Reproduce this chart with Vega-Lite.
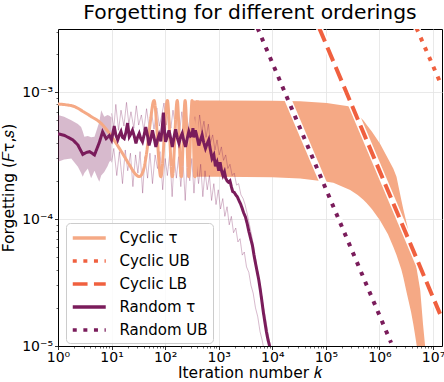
{
  "$schema": "https://vega.github.io/schema/vega-lite/v6.json",
  "width": 384,
  "height": 317,
  "autosize": {"type": "none"},
  "padding": {"left": 58, "top": 29, "right": 2, "bottom": 36},
  "title": {"text": "Forgetting for different orderings", "fontSize": 20.3, "fontWeight": "normal", "anchor": "middle", "offset": 10, "baseline": "alphabetic", "dy": 20, "color": "black", "font": "DejaVu Sans"},
  "config": {
    "font": "DejaVu Sans",
    "view": {"stroke": "black", "strokeWidth": 1},
    "axis": {"domainColor": "black", "domainWidth": 1, "tickColor": "black", "tickWidth": 0.8, "tickSize": 3.5, "labelColor": "black", "titleColor": "black", "labelFontSize": 14, "titleFontSize": 15.5, "titleFontWeight": "normal", "gridColor": "#e3e3e3", "gridWidth": 0.8, "labelFont": "DejaVu Sans", "titleFont": "DejaVu Sans"},
    "legend": {"orient": "none", "legendX": 8, "legendY": 194, "symbolType": "M-1,0H3", "symbolSize": 272, "symbolStrokeWidth": 3.5, "labelFontSize": 15, "labelColor": "black", "labelFont": "DejaVu Sans", "fillColor": "rgba(255,255,255,0.8)", "strokeColor": "#cccccc", "cornerRadius": 4, "padding": 5, "rowPadding": 5, "labelOffset": 28.5}
  },
  "datasets": {
    "cycband": [
      {"k": 330, "lo": 2.15e-4, "hi": 8.6e-4},
      {"k": 1000, "lo": 2.15e-4, "hi": 8.6e-4},
      {"k": 10000, "lo": 2.13e-4, "hi": 8.55e-4},
      {"k": 33000, "lo": 2.09e-4, "hi": 8.45e-4},
      {"k": 104000, "lo": 1.97e-4, "hi": 8.2e-4},
      {"k": 138000, "lo": 1.93e-4, "hi": 8.05e-4},
      {"k": 284000, "lo": 1.69e-4, "hi": 7.7e-4},
      {"k": 393000, "lo": 1.55e-4, "hi": 6.6e-4},
      {"k": 500000, "lo": 1.42e-4, "hi": 6.0e-4},
      {"k": 580000, "lo": 1.33e-4, "hi": 5.5e-4},
      {"k": 720000, "lo": 1.2e-4, "hi": 4.9e-4},
      {"k": 1020000, "lo": 9.8e-5, "hi": 3.94e-4},
      {"k": 1440000, "lo": 7.6e-5, "hi": 3.0e-4},
      {"k": 1810000, "lo": 6.05e-5, "hi": 2.5e-4},
      {"k": 2080000, "lo": 5.2e-5, "hi": 2.15e-4},
      {"k": 2560000, "lo": 4.0e-5, "hi": 1.41e-4},
      {"k": 2780000, "lo": 3.5e-5, "hi": 1.2e-4},
      {"k": 3240000, "lo": 2.6e-5, "hi": 9.2e-5},
      {"k": 3890000, "lo": 1.85e-5, "hi": 6.45e-5},
      {"k": 4270000, "lo": 1.5e-5, "hi": 5.6e-5},
      {"k": 4580000, "lo": 1.25e-5, "hi": 5.0e-5},
      {"k": 4970000, "lo": 1.0e-5, "hi": 4.0e-5},
      {"k": 5770000, "lo": 7e-6, "hi": 2.75e-5},
      {"k": 6490000, "lo": 5e-6, "hi": 1.5e-5},
      {"k": 7110000, "lo": 5e-6, "hi": 1.0e-5},
      {"k": 7700000, "lo": 5e-6, "hi": 8e-6}
    ],
    "rndband": [
      {"k": 1, "lo": 2.83e-4, "hi": 6.6e-4},
      {"k": 1.3, "lo": 2.95e-4, "hi": 6.4e-4},
      {"k": 1.77, "lo": 3.0e-4, "hi": 6.0e-4},
      {"k": 2.35, "lo": 2.58e-4, "hi": 5.6e-4},
      {"k": 2.7, "lo": 2.3e-4, "hi": 5.3e-4},
      {"k": 2.9, "lo": 2.15e-4, "hi": 4.9e-4},
      {"k": 3.1, "lo": 2.3e-4, "hi": 4.45e-4},
      {"k": 3.6, "lo": 2.5e-4, "hi": 4.5e-4},
      {"k": 4.15, "lo": 2.1e-4, "hi": 4.4e-4},
      {"k": 4.8, "lo": 2.4e-4, "hi": 4.45e-4},
      {"k": 5.5, "lo": 2.1e-4, "hi": 5.3e-4},
      {"k": 5.9, "lo": 1.97e-4, "hi": 5.8e-4},
      {"k": 6.4, "lo": 2.2e-4, "hi": 7.2e-4},
      {"k": 7.3, "lo": 2.35e-4, "hi": 6.4e-4},
      {"k": 8.4, "lo": 2.6e-4, "hi": 6.6e-4},
      {"k": 9.1, "lo": 2.83e-4, "hi": 6.5e-4},
      {"k": 10, "lo": 2.9e-4, "hi": 6.3e-4}
    ],
    "rndspk": [
      {"b": "hi", "k": 10, "v": 6.8e-4}, {"b": "hi", "k": 11, "v": 5.2e-4}, {"b": "hi", "k": 12, "v": 8.0e-4}, {"b": "hi", "k": 13.5, "v": 5.0e-4}, {"b": "hi", "k": 15, "v": 7.2e-4}, {"b": "hi", "k": 17, "v": 5.4e-4}, {"b": "hi", "k": 19, "v": 8.3e-4}, {"b": "hi", "k": 21, "v": 5.6e-4}, {"b": "hi", "k": 23, "v": 7.0e-4}, {"b": "hi", "k": 26, "v": 5.2e-4}, {"b": "hi", "k": 29, "v": 7.8e-4}, {"b": "hi", "k": 32, "v": 5.5e-4}, {"b": "hi", "k": 36, "v": 6.6e-4}, {"b": "hi", "k": 40, "v": 5.0e-4}, {"b": "hi", "k": 45, "v": 7.4e-4}, {"b": "hi", "k": 50, "v": 5.3e-4}, {"b": "hi", "k": 56, "v": 6.8e-4}, {"b": "hi", "k": 62, "v": 5.1e-4}, {"b": "hi", "k": 70, "v": 7.5e-4}, {"b": "hi", "k": 78, "v": 5.4e-4}, {"b": "hi", "k": 86, "v": 6.5e-4}, {"b": "hi", "k": 95, "v": 8.2e-4}, {"b": "hi", "k": 105, "v": 5.5e-4}, {"b": "hi", "k": 115, "v": 6.9e-4}, {"b": "hi", "k": 128, "v": 5.2e-4}, {"b": "hi", "k": 140, "v": 7.2e-4}, {"b": "hi", "k": 155, "v": 5.4e-4}, {"b": "hi", "k": 170, "v": 6.6e-4}, {"b": "hi", "k": 188, "v": 5.0e-4}, {"b": "hi", "k": 205, "v": 7.0e-4}, {"b": "hi", "k": 225, "v": 5.3e-4}, {"b": "hi", "k": 250, "v": 6.5e-4}, {"b": "hi", "k": 275, "v": 5.2e-4}, {"b": "hi", "k": 300, "v": 7.1e-4}, {"b": "hi", "k": 330, "v": 5.6e-4}, {"b": "hi", "k": 360, "v": 6.4e-4}, {"b": "hi", "k": 400, "v": 5.0e-4}, {"b": "hi", "k": 440, "v": 6.6e-4}, {"b": "hi", "k": 480, "v": 4.8e-4}, {"b": "hi", "k": 530, "v": 5.9e-4}, {"b": "hi", "k": 580, "v": 4.4e-4}, {"b": "hi", "k": 640, "v": 5.6e-4}, {"b": "hi", "k": 700, "v": 4.0e-4}, {"b": "hi", "k": 770, "v": 4.6e-4}, {"b": "hi", "k": 850, "v": 3.5e-4}, {"b": "hi", "k": 930, "v": 4.2e-4}, {"b": "hi", "k": 1020, "v": 3.2e-4}, {"b": "hi", "k": 1120, "v": 3.7e-4}, {"b": "hi", "k": 1230, "v": 2.9e-4}, {"b": "hi", "k": 1350, "v": 3.2e-4}, {"b": "hi", "k": 1480, "v": 2.5e-4}, {"b": "hi", "k": 1620, "v": 2.7e-4}, {"b": "hi", "k": 1780, "v": 2.2e-4}, {"b": "hi", "k": 1950, "v": 2.3e-4}, {"b": "hi", "k": 2150, "v": 1.85e-4}, {"b": "hi", "k": 2350, "v": 1.9e-4}, {"b": "hi", "k": 2600, "v": 1.55e-4}, {"b": "hi", "k": 2850, "v": 1.45e-4}, {"b": "hi", "k": 3100, "v": 1.3e-4}, {"b": "hi", "k": 3400, "v": 1.1e-4}, {"b": "hi", "k": 3750, "v": 9e-5}, {"b": "hi", "k": 4100, "v": 7.5e-5}, {"b": "hi", "k": 4500, "v": 6e-5}, {"b": "hi", "k": 5000, "v": 4.5e-5}, {"b": "hi", "k": 5500, "v": 3.6e-5}, {"b": "hi", "k": 6100, "v": 2.8e-5}, {"b": "hi", "k": 6700, "v": 2.1e-5}, {"b": "hi", "k": 7400, "v": 1.7e-5}, {"b": "hi", "k": 8200, "v": 1.3e-5}, {"b": "hi", "k": 9000, "v": 1.05e-5}, {"b": "hi", "k": 10000, "v": 8e-6},
      {"b": "lo", "k": 10, "v": 2.8e-4}, {"b": "lo", "k": 11, "v": 3.6e-4}, {"b": "lo", "k": 12.5, "v": 2.2e-4}, {"b": "lo", "k": 14, "v": 3.4e-4}, {"b": "lo", "k": 16, "v": 1.9e-4}, {"b": "lo", "k": 18, "v": 3.5e-4}, {"b": "lo", "k": 20, "v": 2.4e-4}, {"b": "lo", "k": 22.5, "v": 3.3e-4}, {"b": "lo", "k": 25, "v": 1.8e-4}, {"b": "lo", "k": 28, "v": 3.2e-4}, {"b": "lo", "k": 31, "v": 2.3e-4}, {"b": "lo", "k": 34, "v": 3.4e-4}, {"b": "lo", "k": 38, "v": 1.6e-4}, {"b": "lo", "k": 42, "v": 3.1e-4}, {"b": "lo", "k": 47, "v": 2.1e-4}, {"b": "lo", "k": 52, "v": 3.3e-4}, {"b": "lo", "k": 58, "v": 1.9e-4}, {"b": "lo", "k": 65, "v": 3.2e-4}, {"b": "lo", "k": 72, "v": 2.5e-4}, {"b": "lo", "k": 80, "v": 3.4e-4}, {"b": "lo", "k": 90, "v": 1.7e-4}, {"b": "lo", "k": 100, "v": 3.0e-4}, {"b": "lo", "k": 110, "v": 2.2e-4}, {"b": "lo", "k": 122, "v": 3.3e-4}, {"b": "lo", "k": 135, "v": 1.5e-4}, {"b": "lo", "k": 148, "v": 3.0e-4}, {"b": "lo", "k": 162, "v": 2.1e-4}, {"b": "lo", "k": 178, "v": 3.1e-4}, {"b": "lo", "k": 196, "v": 1.8e-4}, {"b": "lo", "k": 215, "v": 2.9e-4}, {"b": "lo", "k": 237, "v": 1.4e-4}, {"b": "lo", "k": 260, "v": 2.9e-4}, {"b": "lo", "k": 288, "v": 2.0e-4}, {"b": "lo", "k": 315, "v": 3.0e-4}, {"b": "lo", "k": 345, "v": 1.6e-4}, {"b": "lo", "k": 380, "v": 2.8e-4}, {"b": "lo", "k": 420, "v": 1.9e-4}, {"b": "lo", "k": 460, "v": 2.7e-4}, {"b": "lo", "k": 505, "v": 1.5e-4}, {"b": "lo", "k": 555, "v": 2.4e-4}, {"b": "lo", "k": 610, "v": 1.7e-4}, {"b": "lo", "k": 670, "v": 2.2e-4}, {"b": "lo", "k": 735, "v": 1.4e-4}, {"b": "lo", "k": 810, "v": 1.9e-4}, {"b": "lo", "k": 890, "v": 1.3e-4}, {"b": "lo", "k": 980, "v": 1.7e-4}, {"b": "lo", "k": 1080, "v": 1.2e-4}, {"b": "lo", "k": 1190, "v": 1.45e-4}, {"b": "lo", "k": 1300, "v": 1.05e-4}, {"b": "lo", "k": 1430, "v": 1.25e-4}, {"b": "lo", "k": 1570, "v": 9e-5}, {"b": "lo", "k": 1720, "v": 1.05e-4}, {"b": "lo", "k": 1890, "v": 7.8e-5}, {"b": "lo", "k": 2080, "v": 8.5e-5}, {"b": "lo", "k": 2280, "v": 6.6e-5}, {"b": "lo", "k": 2500, "v": 7e-5}, {"b": "lo", "k": 2750, "v": 5.2e-5}, {"b": "lo", "k": 3000, "v": 5.5e-5}, {"b": "lo", "k": 3300, "v": 4.2e-5}, {"b": "lo", "k": 3650, "v": 3.8e-5}, {"b": "lo", "k": 4000, "v": 3.0e-5}, {"b": "lo", "k": 4400, "v": 2.6e-5}, {"b": "lo", "k": 4850, "v": 2.0e-5}, {"b": "lo", "k": 5350, "v": 1.7e-5}, {"b": "lo", "k": 5900, "v": 1.3e-5}, {"b": "lo", "k": 6500, "v": 1.1e-5}, {"b": "lo", "k": 7100, "v": 9e-6}
    ],
    "cyc": [
      {"series": "Cyclic τ", "k": 1, "y": 8.05e-4},
      {"series": "Cyclic τ", "k": 1.4, "y": 7.95e-4},
      {"series": "Cyclic τ", "k": 2, "y": 7.7e-4},
      {"series": "Cyclic τ", "k": 3, "y": 7.0e-4},
      {"series": "Cyclic τ", "k": 4.2, "y": 6.4e-4},
      {"series": "Cyclic τ", "k": 6, "y": 5.8e-4},
      {"series": "Cyclic τ", "k": 9.2, "y": 4.7e-4},
      {"series": "Cyclic τ", "k": 14, "y": 3.6e-4},
      {"series": "Cyclic τ", "k": 21.7, "y": 2.66e-4},
      {"series": "Cyclic τ", "k": 27, "y": 2.3e-4},
      {"series": "Cyclic τ", "k": 33, "y": 2.16e-4},
      {"series": "Cyclic τ", "k": 39, "y": 2.4e-4},
      {"series": "Cyclic τ", "k": 45, "y": 3.3e-4},
      {"series": "Cyclic τ", "k": 52, "y": 5.5e-4},
      {"series": "Cyclic τ", "k": 62, "y": 8.6e-4},
      {"series": "Cyclic τ", "k": 83, "y": 2.15e-4},
      {"series": "Cyclic τ", "k": 110, "y": 8.6e-4},
      {"series": "Cyclic τ", "k": 136, "y": 2.15e-4},
      {"series": "Cyclic τ", "k": 168, "y": 8.6e-4},
      {"series": "Cyclic τ", "k": 200, "y": 2.15e-4},
      {"series": "Cyclic τ", "k": 236, "y": 8.6e-4},
      {"series": "Cyclic τ", "k": 275, "y": 2.15e-4},
      {"series": "Cyclic τ", "k": 318, "y": 8.6e-4},
      {"series": "Cyclic τ", "k": 359, "y": 2.15e-4},
      {"series": "Cyclic τ", "k": 400, "y": 8.6e-4}
    ],
    "rnd": [
      {"series": "Random τ", "k": 1, "y": 4.7e-4}, {"series": "Random τ", "k": 1.33, "y": 4.55e-4}, {"series": "Random τ", "k": 1.9, "y": 4.2e-4}, {"series": "Random τ", "k": 2.35, "y": 3.83e-4}, {"series": "Random τ", "k": 2.9, "y": 3.23e-4}, {"series": "Random τ", "k": 3.4, "y": 3.35e-4}, {"series": "Random τ", "k": 3.9, "y": 3.4e-4}, {"series": "Random τ", "k": 4.8, "y": 3.2e-4}, {"series": "Random τ", "k": 5.9, "y": 4.0e-4}, {"series": "Random τ", "k": 6.8, "y": 4.87e-4}, {"series": "Random τ", "k": 7.9, "y": 4.3e-4}, {"series": "Random τ", "k": 9.1, "y": 4.55e-4}, {"series": "Random τ", "k": 10, "y": 4.2e-4}, {"series": "Random τ", "k": 11.2, "y": 5.4e-4}, {"series": "Random τ", "k": 12, "y": 4.6e-4}, {"series": "Random τ", "k": 13, "y": 4.2e-4}, {"series": "Random τ", "k": 14, "y": 4.6e-4}, {"series": "Random τ", "k": 15, "y": 4.9e-4}, {"series": "Random τ", "k": 16, "y": 4.4e-4}, {"series": "Random τ", "k": 17.2, "y": 4.3e-4}, {"series": "Random τ", "k": 18.5, "y": 4.8e-4}, {"series": "Random τ", "k": 19.9, "y": 5.7e-4}, {"series": "Random τ", "k": 21.4, "y": 4.45e-4}, {"series": "Random τ", "k": 23, "y": 4.7e-4}, {"series": "Random τ", "k": 24.6, "y": 5.0e-4}, {"series": "Random τ", "k": 26.5, "y": 4.5e-4}, {"series": "Random τ", "k": 28.5, "y": 3.95e-4}, {"series": "Random τ", "k": 30.5, "y": 4.4e-4}, {"series": "Random τ", "k": 32.8, "y": 4.73e-4}, {"series": "Random τ", "k": 35, "y": 4.3e-4}, {"series": "Random τ", "k": 37.7, "y": 4.06e-4}, {"series": "Random τ", "k": 40.5, "y": 4.6e-4}, {"series": "Random τ", "k": 43.5, "y": 5.3e-4}, {"series": "Random τ", "k": 47, "y": 4.5e-4}, {"series": "Random τ", "k": 50, "y": 3.8e-4}, {"series": "Random τ", "k": 54, "y": 4.3e-4}, {"series": "Random τ", "k": 58, "y": 5.0e-4}, {"series": "Random τ", "k": 62, "y": 4.4e-4}, {"series": "Random τ", "k": 67, "y": 3.7e-4}, {"series": "Random τ", "k": 72, "y": 4.2e-4}, {"series": "Random τ", "k": 77, "y": 4.6e-4}, {"series": "Random τ", "k": 83, "y": 4.1e-4}, {"series": "Random τ", "k": 88, "y": 5.2e-4}, {"series": "Random τ", "k": 93, "y": 6.9e-4}, {"series": "Random τ", "k": 97, "y": 5.0e-4}, {"series": "Random τ", "k": 102, "y": 4.06e-4}, {"series": "Random τ", "k": 110, "y": 4.5e-4}, {"series": "Random τ", "k": 118, "y": 5.0e-4}, {"series": "Random τ", "k": 127, "y": 4.3e-4}, {"series": "Random τ", "k": 136, "y": 3.7e-4}, {"series": "Random τ", "k": 146, "y": 4.4e-4}, {"series": "Random τ", "k": 157, "y": 5.1e-4}, {"series": "Random τ", "k": 168, "y": 4.4e-4}, {"series": "Random τ", "k": 181, "y": 3.95e-4}, {"series": "Random τ", "k": 194, "y": 4.4e-4}, {"series": "Random τ", "k": 208, "y": 4.73e-4}, {"series": "Random τ", "k": 224, "y": 4.1e-4}, {"series": "Random τ", "k": 240, "y": 3.7e-4}, {"series": "Random τ", "k": 258, "y": 4.3e-4}, {"series": "Random τ", "k": 277, "y": 4.9e-4}, {"series": "Random τ", "k": 297, "y": 4.5e-4}, {"series": "Random τ", "k": 318, "y": 4.6e-4}, {"series": "Random τ", "k": 330, "y": 5.2e-4}, {"series": "Random τ", "k": 342, "y": 4.4e-4}, {"series": "Random τ", "k": 367, "y": 5.0e-4}, {"series": "Random τ", "k": 395, "y": 4.4e-4}, {"series": "Random τ", "k": 425, "y": 3.8e-4}, {"series": "Random τ", "k": 457, "y": 4.2e-4}, {"series": "Random τ", "k": 490, "y": 4.6e-4}, {"series": "Random τ", "k": 525, "y": 4.0e-4}, {"series": "Random τ", "k": 565, "y": 3.6e-4}, {"series": "Random τ", "k": 605, "y": 3.9e-4}, {"series": "Random τ", "k": 650, "y": 4.2e-4}, {"series": "Random τ", "k": 700, "y": 3.5e-4}, {"series": "Random τ", "k": 750, "y": 3.0e-4}, {"series": "Random τ", "k": 810, "y": 3.2e-4}, {"series": "Random τ", "k": 868, "y": 2.6e-4}, {"series": "Random τ", "k": 930, "y": 2.8e-4}, {"series": "Random τ", "k": 1000, "y": 2.4e-4}, {"series": "Random τ", "k": 1060, "y": 2.8e-4}, {"series": "Random τ", "k": 1130, "y": 2.4e-4}, {"series": "Random τ", "k": 1200, "y": 2.2e-4}, {"series": "Random τ", "k": 1280, "y": 2.35e-4}, {"series": "Random τ", "k": 1350, "y": 2.1e-4}, {"series": "Random τ", "k": 1430, "y": 2.0e-4}, {"series": "Random τ", "k": 1520, "y": 1.95e-4}, {"series": "Random τ", "k": 1620, "y": 2.0e-4}, {"series": "Random τ", "k": 1720, "y": 1.8e-4}, {"series": "Random τ", "k": 1820, "y": 1.65e-4}, {"series": "Random τ", "k": 1950, "y": 1.62e-4}, {"series": "Random τ", "k": 2080, "y": 1.55e-4}, {"series": "Random τ", "k": 2220, "y": 1.5e-4}, {"series": "Random τ", "k": 2380, "y": 1.4e-4}, {"series": "Random τ", "k": 2550, "y": 1.32e-4}, {"series": "Random τ", "k": 2730, "y": 1.22e-4}, {"series": "Random τ", "k": 2920, "y": 1.12e-4}, {"series": "Random τ", "k": 3150, "y": 1.04e-4}, {"series": "Random τ", "k": 3400, "y": 9.2e-5}, {"series": "Random τ", "k": 3650, "y": 8.0e-5}, {"series": "Random τ", "k": 3950, "y": 7.0e-5}, {"series": "Random τ", "k": 4250, "y": 6.2e-5}, {"series": "Random τ", "k": 4550, "y": 5.2e-5}, {"series": "Random τ", "k": 4900, "y": 4.4e-5}, {"series": "Random τ", "k": 5250, "y": 3.8e-5}, {"series": "Random τ", "k": 5600, "y": 3.3e-5}, {"series": "Random τ", "k": 5950, "y": 2.8e-5}, {"series": "Random τ", "k": 6350, "y": 2.3e-5}, {"series": "Random τ", "k": 6800, "y": 1.85e-5}, {"series": "Random τ", "k": 7250, "y": 1.55e-5}, {"series": "Random τ", "k": 7750, "y": 1.3e-5}, {"series": "Random τ", "k": 8300, "y": 1.12e-5}, {"series": "Random τ", "k": 8900, "y": 1.0e-5}, {"series": "Random τ", "k": 9800, "y": 9e-6}
    ],
    "bounds": [
      {"series": "Cyclic UB", "k": 4900000, "y": 3.2e-3},
      {"series": "Cyclic UB", "k": 13500000, "y": 1.2e-3},
      {"series": "Cyclic LB", "k": 75000, "y": 3.2e-3},
      {"series": "Cyclic LB", "k": 13500000, "y": 1.79e-5},
      {"series": "Random UB", "k": 5300, "y": 3.2e-3},
      {"series": "Random UB", "k": 1650000, "y": 1.06e-5}
    ]
  },
  "resolve": {"axis": {"x": "independent", "y": "independent"}},
  "layer": [
    {
      "data": {"name": "cycband"},
      "mark": {"type": "area", "color": "#f5a985", "clip": true, "opacity": 1},
      "encoding": {
        "x": {"field": "k", "type": "quantitative", "scale": {"type": "log", "domain": [1, 14700000], "nice": false},
          "axis": {"orient": "bottom", "values": [1, 10, 100, 1000, 10000, 100000, 1000000, 10000000], "labelExpr": "['10⁰','10¹','10²','10³','10⁴','10⁵','10⁶','10⁷'][round(log(datum.value)/LN10)]", "labelFlush": false, "labelOverlap": false, "labelPadding": 1, "grid": true, "title": "Iteration number 𝑘", "titleBaseline": "alphabetic", "titleY": 31}},
        "y": {"field": "lo", "type": "quantitative", "scale": {"type": "log", "domain": [1e-5, 3.14e-3], "nice": false},
          "axis": {"orient": "left", "values": [1e-5, 1e-4, 1e-3], "labelExpr": "datum.value < 2e-5 ? '10⁻⁵' : datum.value < 2e-4 ? '10⁻⁴' : '10⁻³'", "labelFlush": false, "labelOverlap": false, "labelPadding": 2, "grid": true, "title": "Forgetting (𝐹τ,𝑠)", "titleBaseline": "alphabetic", "titleX": -44.5}},
        "y2": {"field": "hi"}
      }
    },
    {
      "data": {"name": "rndband"},
      "mark": {"type": "area", "color": "#7a1c5b", "opacity": 0.3, "clip": true},
      "encoding": {
        "x": {"field": "k", "type": "quantitative", "axis": null},
        "y": {"field": "lo", "type": "quantitative", "axis": null},
        "y2": {"field": "hi"}
      }
    },
    {
      "data": {"name": "rndspk"},
      "mark": {"type": "line", "color": "#7a1c5b", "opacity": 0.3, "strokeWidth": 1, "clip": true},
      "encoding": {
        "x": {"field": "k", "type": "quantitative", "axis": null},
        "y": {"field": "v", "type": "quantitative", "axis": null},
        "detail": {"field": "b", "type": "nominal"}
      }
    },
    {
      "data": {"name": "bounds"},
      "mark": {"type": "line", "color": "white", "strokeWidth": 7, "strokeCap": "butt", "clip": true},
      "encoding": {
        "x": {"field": "k", "type": "quantitative",
          "axis": {"orient": "bottom", "values": [2,3,4,5,6,7,8,9,20,30,40,50,60,70,80,90,200,300,400,500,600,700,800,900,2000,3000,4000,5000,6000,7000,8000,9000,20000,30000,40000,50000,60000,70000,80000,90000,200000,300000,400000,500000,600000,700000,800000,900000,2000000,3000000,4000000,5000000,6000000,7000000,8000000,9000000], "labels": false, "grid": false, "domain": false, "tickSize": 2, "tickWidth": 0.6, "title": null}},
        "y": {"field": "y", "type": "quantitative",
          "axis": {"orient": "left", "values": [2e-5,3e-5,4e-5,5e-5,6e-5,7e-5,8e-5,9e-5,2e-4,3e-4,4e-4,5e-4,6e-4,7e-4,8e-4,9e-4,2e-3,3e-3], "labels": false, "grid": false, "domain": false, "tickSize": 2, "tickWidth": 0.6, "title": null}},
        "detail": {"field": "series", "type": "nominal"}
      }
    },
    {
      "data": {"name": "cyc"},
      "mark": {"type": "line", "strokeWidth": 3, "interpolate": "monotone", "clip": true},
      "encoding": {
        "x": {"field": "k", "type": "quantitative", "axis": null},
        "y": {"field": "y", "type": "quantitative", "axis": null},
        "color": {"field": "series", "type": "nominal", "scale": {"domain": ["Cyclic τ", "Cyclic UB", "Cyclic LB", "Random τ", "Random UB"], "range": ["#f5a985", "#f0603f", "#f0603f", "#7a1c5b", "#7a1c5b"]}, "legend": {"title": null}},
        "strokeDash": {"field": "series", "type": "nominal", "scale": {"domain": ["Cyclic τ", "Cyclic UB", "Cyclic LB", "Random τ", "Random UB"], "range": [[1, 0], [4, 6.6], [14.8, 6.4], [1, 0], [4, 6.6]]}, "legend": {"title": null}}
      }
    },
    {
      "data": {"name": "rnd"},
      "mark": {"type": "line", "strokeWidth": 3, "clip": true},
      "encoding": {
        "x": {"field": "k", "type": "quantitative", "axis": null},
        "y": {"field": "y", "type": "quantitative", "axis": null},
        "color": {"field": "series", "type": "nominal", "legend": {"title": null}},
        "strokeDash": {"field": "series", "type": "nominal", "legend": {"title": null}}
      }
    },
    {
      "data": {"name": "bounds"},
      "mark": {"type": "line", "strokeWidth": 4, "strokeCap": "butt", "clip": true},
      "encoding": {
        "x": {"field": "k", "type": "quantitative", "axis": null},
        "y": {"field": "y", "type": "quantitative", "axis": null},
        "color": {"field": "series", "type": "nominal", "legend": {"title": null}},
        "strokeDash": {"field": "series", "type": "nominal", "legend": {"title": null}}
      }
    }
  ]
}
